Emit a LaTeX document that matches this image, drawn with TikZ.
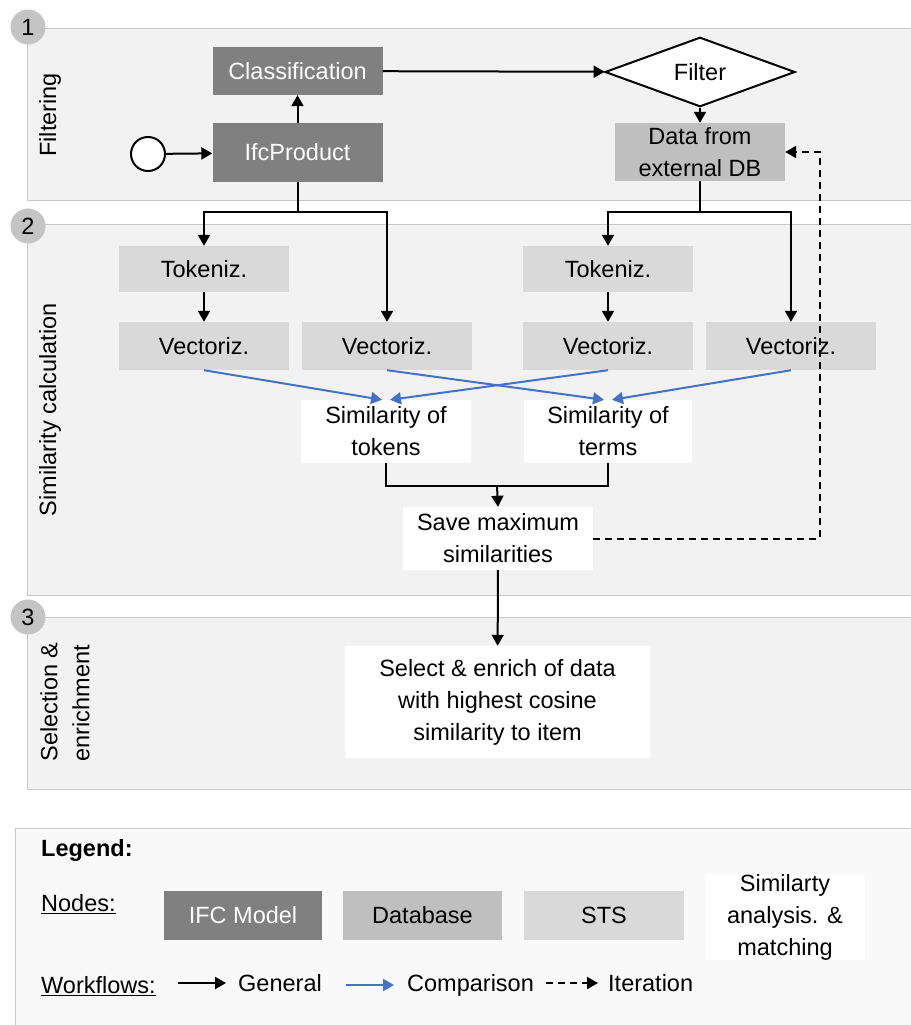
\documentclass[tikz,border=0pt]{standalone}
\usepackage{fontspec}
\setmainfont{Liberation Sans}
\usetikzlibrary{arrows.meta,shapes.geometric,calc}

\definecolor{panelfill}{HTML}{F2F2F2}
\definecolor{panelline}{HTML}{C8C8C8}
\definecolor{legendfill}{HTML}{F9F9F9}
\definecolor{badgefill}{HTML}{C4C4C4}
\definecolor{ifcfill}{HTML}{808080}
\definecolor{dbfill}{HTML}{BFBFBF}
\definecolor{stsfill}{HTML}{D9D9D9}
\definecolor{cmpblue}{HTML}{4472C4}

\tikzset{
  panel/.style={fill=panelfill, draw=panelline, line width=1pt},
  badge/.style={circle, fill=badgefill, minimum size=35pt, inner sep=0pt},
  boxbase/.style={minimum width=170pt, minimum height=48pt, inner sep=0pt, align=center},
  ifcbox/.style={boxbase, fill=ifcfill, text=white},
  dbbox/.style={boxbase, fill=dbfill},
  stsbox/.style={boxbase, fill=stsfill},
  simbox/.style={boxbase, fill=white},
  sidelabel/.style={rotate=90, align=left, inner sep=0pt},
  tip/.style={-{Triangle[width=12pt,length=11pt]}},
  general/.style={line width=2pt, tip},
  plainline/.style={line width=2pt},
  comparison/.style={line width=2pt, cmpblue, tip},
  iteration/.style={line width=2pt, dash pattern=on 7pt off 5pt, tip},
}

\begin{document}
\begin{tikzpicture}[x=1pt, y=-1pt, font=\fontsize{23.5}{32}\selectfont]
\useasboundingbox (0,0) rectangle (910,1025);

% stage panels
\path[panel] (27,29) rectangle (915,200);
\path[panel] (27,224) rectangle (915,595);
\path[panel] (27,617) rectangle (915,789);
\path[fill=legendfill, draw=panelline, line width=1pt] (15,828) rectangle (915,1030);

% stage badges
\node[badge] (b1) at (28,27) {1};
\node[badge] (b2) at (28,226) {2};
\node[badge] (b3) at (28,617) {3};

% stage titles
\node[sidelabel] (t1) at (50,115) {Filtering};
\node[sidelabel] (t2) at (50,410) {Similarity calculation};
\node[sidelabel] (t3) at (65,702) {Selection \&\\enrichment};

% stage 1: filtering
\node[circle, draw, fill=white, line width=2pt, minimum size=34pt, inner sep=0pt] (start) at (148,154) {};
\node[ifcbox] (cls) at (297.5,71) {Classification};
\node[ifcbox, minimum height=59pt] (ifc) at (297.5,152.5) {IfcProduct};
\node[diamond, draw, fill=white, line width=2pt, minimum width=190pt, minimum height=67pt, inner sep=0pt] (filter) at (700,72) {Filter};
\node[dbbox, minimum height=58pt] (data) at (700,152) {Data from\\external DB};

% stage 2: similarity calculation
\node[stsbox, minimum height=46pt] (tok1) at (204,269) {Tokeniz.};
\node[stsbox, minimum height=46pt] (tok2) at (608,269) {Tokeniz.};
\node[stsbox] (vec1) at (204,346) {Vectoriz.};
\node[stsbox] (vec2) at (387,346) {Vectoriz.};
\node[stsbox] (vec3) at (608,346) {Vectoriz.};
\node[stsbox] (vec4) at (791,346) {Vectoriz.};
\node[simbox, minimum height=63pt] (simtok) at (386,431.5) {Similarity of\\tokens};
\node[simbox, minimum width=168pt, minimum height=63pt] (simterm) at (608,431.5) {Similarity of\\terms};
\node[simbox, minimum width=190pt, minimum height=63pt] (save) at (498,538.5) {Save maximum\\similarities};

% stage 3: selection and enrichment
\node[simbox, minimum width=305pt, minimum height=112pt] (select) at (497.5,702) {Select \& enrich of data\\with highest cosine\\similarity to item};

% general workflow
\draw[general] (start) -- (ifc);
\draw[general] (ifc) -- (cls);
\draw[general] (cls) -- (filter);
\draw[general] (filter) -- (data);

\coordinate (splitA) at (297.5,212);
\draw[plainline] (ifc.south) -- (splitA);
\draw[general] (splitA) -| (tok1.north);
\draw[general] (splitA) -| (vec2.north);

\coordinate (splitB) at (700,212);
\draw[plainline] (data.south) -- (splitB);
\draw[general] (splitB) -| (tok2.north);
\draw[general] (splitB) -| (vec4.north);

\draw[general] (tok1) -- (vec1);
\draw[general] (tok2) -- (vec3);

\coordinate (merge) at (497,486);
\draw[plainline] (simtok.south) |- (merge) -| (simterm.south);
\draw[general] (merge) -- (save.north);
\draw[general] (save) -- (select);

% comparison workflow
\draw[comparison] (vec1.south) -- ($(simtok.north)+(-4,0)$);
\draw[comparison] (vec3.south) -- ($(simtok.north)+(4,0)$);
\draw[comparison] (vec2.south) -- ($(simterm.north)+(-4,0)$);
\draw[comparison] (vec4.south) -- ($(simterm.north)+(4,0)$);

% iteration loop
\coordinate (loop) at (820,152);
\draw[iteration] (save.east) -| (loop) -- (data.east);

% legend
\node[anchor=west, inner sep=0pt] (lgtitle) at (41,850) {\bfseries Legend:};
\node[anchor=west, inner sep=0pt] (lgnodes) at (41,904) {\underline{Nodes:}};
\node[ifcbox, minimum width=158pt, minimum height=49pt] (lgifc) at (243,915.5) {IFC Model};
\node[dbbox, minimum width=159pt, minimum height=49pt] (lgdb) at (422.5,915.5) {Database};
\node[stsbox, minimum width=160pt, minimum height=49pt] (lgsts) at (604,915.5) {STS};
\node[simbox, minimum width=160pt, minimum height=80pt] (lgsim) at (785,917) {Similarty\\analysis. \&\\matching};
\node[anchor=west, inner sep=0pt] (lgflows) at (41,986) {\underline{Workflows:}};
\coordinate (ga) at (178,983);
\coordinate (gb) at (226,983);
\draw[general] (ga) -- (gb);
\node[anchor=west, inner sep=0pt] (lggen) at (238,983) {General};
\coordinate (ca) at (346,985);
\coordinate (cb) at (394,985);
\draw[comparison] (ca) -- (cb);
\node[anchor=west, inner sep=0pt] (lgcmp) at (407,985) {Comparison};
\coordinate (ia) at (546,983);
\coordinate (ib) at (598,983);
\draw[iteration] (ia) -- (ib);
\node[anchor=west, inner sep=0pt] (lgit) at (608,983) {Iteration};
\end{tikzpicture}
\end{document}
